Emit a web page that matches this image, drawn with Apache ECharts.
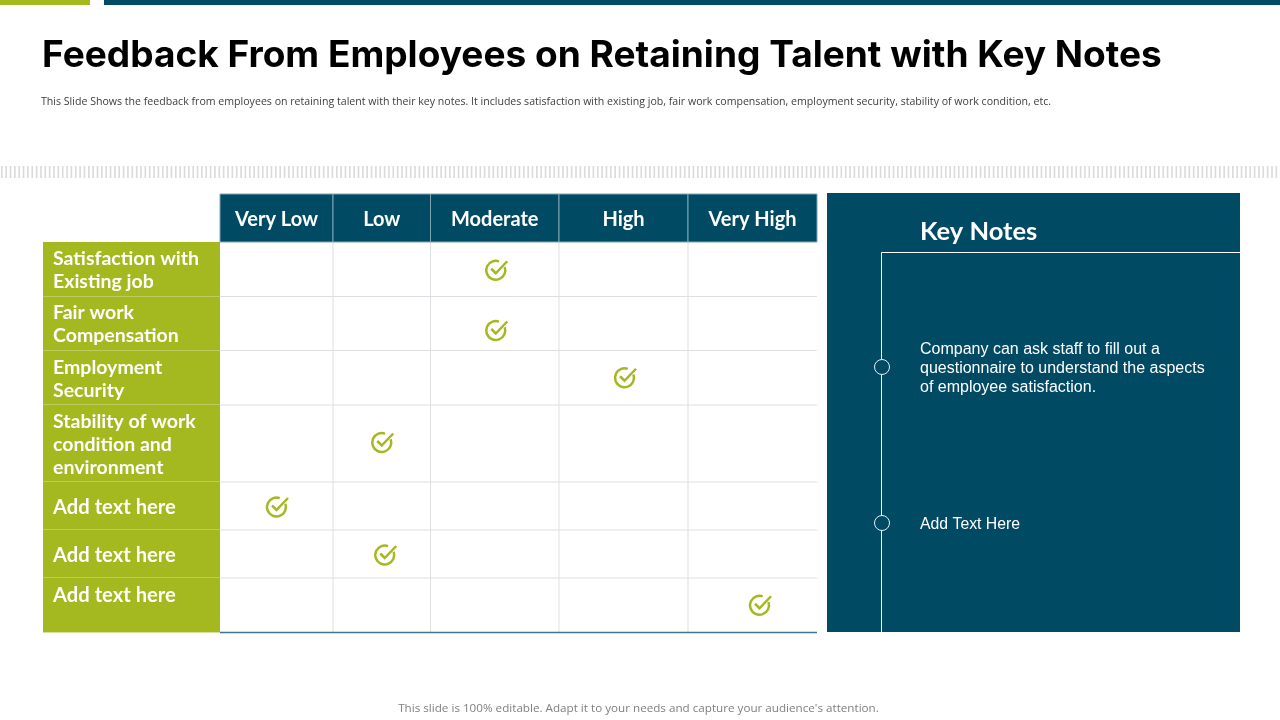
<!DOCTYPE html>
<html>
<head>
<meta charset="utf-8">
<title>Feedback From Employees</title>
<style>
html, body { margin: 0; padding: 0; background: #fff; }
#main { width: 1280px; height: 720px; }
</style>
<script src="https://cdn.jsdelivr.net/npm/echarts@6/dist/echarts.min.js"></script>
</head>
<body>
<div id="main"></div>
<script>
var titleText = 'Feedback From Employees on Retaining Talent with Key Notes';
var subText = 'This Slide Shows the feedback from employees on retaining talent with their key notes. It includes satisfaction with existing job, fair work compensation, employment security, stability of work condition, etc.';
var footText = "This slide is 100% editable. Adapt it to your needs and capture your audience's attention.";

var levels = ['Very Low', 'Low', 'Moderate', 'High', 'Very High'];
var rowNames = [
    'Satisfaction with\nExisting job',
    'Fair work\nCompensation',
    'Employment\nSecurity',
    'Stability of work\ncondition and\nenvironment',
    'Add text here',
    'Add text here',
    'Add text here'
];
// index into levels for each row
var ratings = [2, 2, 3, 1, 0, 1, 4];

var notes = [
    'Company can ask staff to fill out a\nquestionnaire to understand the aspects\nof employee satisfaction.',
    'Add Text Here'
];

// layout, in slide pixels
var colEdges = [220, 333, 430.5, 559, 688, 817];
var rowEdges = [242, 296.5, 350.5, 405, 482, 530, 578, 632.5];
var checkDx = [2, 2, 2, 1, 1, 4, 8];
var checkDy = [0, 6, -1, -2, 0, 0, -1];
var labelX = 53;
var labelLeft = 43;
var headTop = 194;

var navy = '#004A64';
var green = '#A3B91F';
var gridGray = '#DEDFE3';
var headLine = '#7FA5B5';

var chart = echarts.init(document.getElementById('main'));

var rowData = rowNames.map(function (n, i) { return [i]; });
var colData = levels.map(function (n, i) { return [i]; });
var checkData = ratings.map(function (c, r) {
    return [
        (colEdges[c] + colEdges[c + 1]) / 2 + checkDx[r],
        (rowEdges[r] + rowEdges[r + 1]) / 2 + checkDy[r]
    ];
});

function renderRow(params, api) {
    var i = api.value(0);
    var a = api.coord([labelLeft, rowEdges[i]]);
    var b = api.coord([colEdges[0], rowEdges[i + 1]]);
    var end = api.coord([colEdges[5], rowEdges[i + 1]]);
    // last row text sits near the top of its cell
    var textY = i === 6 ? a[1] + 17 : (a[1] + b[1]) / 2 + 1;
    var font = i > 3 ? 'bold 20.2px Lato' : 'bold 19.5px Lato';
    return {
        type: 'group',
        children: [
            { type: 'rect', shape: { x: a[0], y: a[1], width: b[0] - a[0], height: b[1] - a[1] }, style: { fill: green } },
            { type: 'line', shape: { x1: a[0], y1: b[1], x2: b[0], y2: b[1] }, style: { stroke: '#D5DE9C', lineWidth: 1 } },
            { type: 'line', shape: { x1: b[0], y1: b[1], x2: end[0], y2: b[1] }, style: { stroke: i === 6 ? '#3F7489' : gridGray, lineWidth: i === 6 ? 1.5 : 1 } },
            { type: 'text', style: { x: labelX, y: textY, text: rowNames[i], font: font, fill: '#fff', align: 'left', verticalAlign: 'middle', lineHeight: 23 } }
        ]
    };
}

function renderCol(params, api) {
    var i = api.value(0);
    var a = api.coord([colEdges[i], headTop]);
    var b = api.coord([colEdges[i + 1], rowEdges[0]]);
    var end = api.coord([colEdges[i + 1], rowEdges[7]]);
    var kids = [];
    // right edge of the table has no rule below the header
    if (i < levels.length - 1) {
        kids.push({ type: 'line', shape: { x1: b[0], y1: b[1], x2: end[0], y2: end[1] }, style: { stroke: gridGray, lineWidth: 1 } });
    }
    kids.push({ type: 'rect', shape: { x: a[0], y: a[1], width: b[0] - a[0], height: b[1] - a[1] }, style: { fill: navy, stroke: headLine, lineWidth: 1 } });
    kids.push({ type: 'text', style: { x: (a[0] + b[0]) / 2, y: (a[1] + b[1]) / 2 + 2, text: levels[i], font: 'bold 20px Lato', fill: '#fff', align: 'center', verticalAlign: 'middle' } });
    return { type: 'group', children: kids };
}

function renderCheck(params, api) {
    var p = api.coord([api.value(0), api.value(1)]);
    return {
        type: 'group',
        x: p[0],
        y: p[1],
        children: [
            { type: 'arc', shape: { cx: -1, cy: 1, r: 9.5, startAngle: -20 * Math.PI / 180, endAngle: 290 * Math.PI / 180, clockwise: true }, style: { fill: null, stroke: green, lineWidth: 2.5 } },
            { type: 'polyline', shape: { points: [[-5.5, -0.5], [-1, 4], [10.5, -8]] }, style: { fill: null, stroke: green, lineWidth: 2.5 } }
        ]
    };
}

// hatched divider under the heading
var hatch = [];
for (var hx = 1; hx < 1280; hx += 4.35) {
    hatch.push({ type: 'rect', shape: { x: hx, y: 166, width: 1.6, height: 12 }, style: { fill: '#DADADA' } });
}

var graphics = [
    { type: 'rect', shape: { x: 0, y: 0, width: 90, height: 5 }, style: { fill: green } },
    { type: 'rect', shape: { x: 104, y: 0, width: 1176, height: 5 }, style: { fill: navy } },
    { type: 'group', children: hatch },
    { type: 'rect', shape: { x: 827, y: 193, width: 413, height: 439 }, style: { fill: navy } },
    { type: 'polyline', shape: { points: [[1240, 252.5], [881.5, 252.5], [881.5, 632]] }, style: { fill: null, stroke: '#fff', lineWidth: 1 } },
    { type: 'circle', shape: { cx: 882, cy: 367, r: 7.5 }, style: { fill: navy, stroke: '#E6F0F4', lineWidth: 1 } },
    { type: 'circle', shape: { cx: 882, cy: 523, r: 7.5 }, style: { fill: navy, stroke: '#E6F0F4', lineWidth: 1 } },
    { type: 'text', style: { x: 42, y: 56, text: titleText, font: 'bold 37.05px Inter', fill: '#000', verticalAlign: 'middle' } },
    { type: 'text', style: { x: 41, y: 102, text: subText, font: '10.6px "Open Sans"', fill: '#404040', verticalAlign: 'middle' } },
    { type: 'text', style: { x: 920, y: 232, text: 'Key Notes', font: 'bold 25.5px Lato', fill: '#fff', verticalAlign: 'middle' } },
    { type: 'text', style: { x: 920, y: 368.5, text: notes[0], font: '16px "Liberation Sans"', fill: '#fff', verticalAlign: 'middle', lineHeight: 19 } },
    { type: 'text', style: { x: 920, y: 525, text: notes[1], font: '15.8px "Liberation Sans"', fill: '#fff', verticalAlign: 'middle' } },
    { type: 'text', style: { x: 638.5, y: 709, text: footText, font: '11.67px "Open Sans"', fill: '#7F7F7F', align: 'center', verticalAlign: 'middle' } }
];

var option = {
    animation: false,
    graphic: { elements: graphics },
    grid: { left: 0, right: 0, top: 0, bottom: 0 },
    xAxis: { type: 'value', min: 0, max: 1280, show: false },
    yAxis: { type: 'value', min: 0, max: 720, inverse: true, show: false },
    series: [
        { type: 'custom', z: 3, data: colData, renderItem: renderCol, clip: false, silent: true, encode: { x: 0 } },
        { type: 'custom', z: 4, data: rowData, renderItem: renderRow, clip: false, silent: true, encode: { y: 0 } },
        { type: 'custom', z: 5, data: checkData, renderItem: renderCheck, clip: false, silent: true, encode: { x: 0, y: 1 } }
    ]
};

chart.setOption(option);
</script>
</body>
</html>
